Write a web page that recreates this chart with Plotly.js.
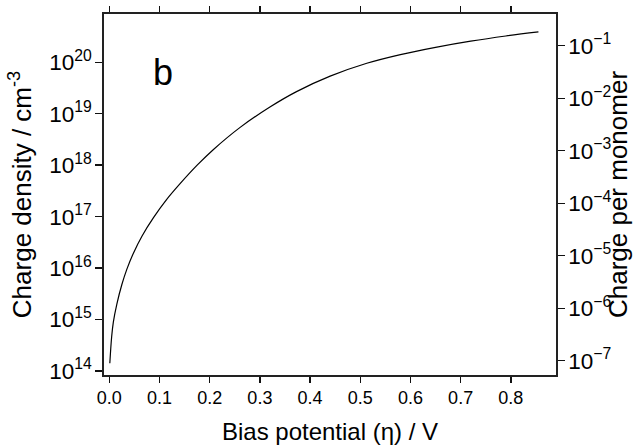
<!DOCTYPE html>
<html>
<head>
<meta charset="utf-8">
<script src="https://cdn.plot.ly/plotly-3.0.1.min.js"></script>
<style>html,body{margin:0;padding:0;background:#fff;}#chart{width:633px;height:446px;}</style>
</head>
<body>
<div id="chart"></div>
<script>
// Bias potential (V)
const eta = [0.001, 0.0047, 0.008, 0.015, 0.025, 0.035, 0.048, 0.065, 0.088, 0.114, 0.141, 0.175, 0.207, 0.26, 0.32, 0.373, 0.44, 0.513, 0.58, 0.65, 0.72, 0.79, 0.855];
// Charge density (cm^-3)
const density = [1.41e14, 4.68e14, 8.91e14, 2.0e15, 4.79e15, 9.55e15, 1.95e16, 4.17e16, 9.55e16, 2.14e17, 4.37e17, 1.0e18, 2.0e18, 5.37e18, 1.35e19, 2.69e19, 5.37e19, 9.55e19, 1.41e20, 1.95e20, 2.57e20, 3.24e20, 3.89e20];
const xTicks = [0, 0.1, 0.2, 0.3, 0.4, 0.5, 0.6, 0.7, 0.8];
const xTickText = ['0.0', '0.1', '0.2', '0.3', '0.4', '0.5', '0.6', '0.7', '0.8'];
// Decade exponents of the two y axes
const leftExp = [14, 15, 16, 17, 18, 19, 20];
const rightExp = [-7, -6, -5, -4, -3, -2, -1];

const FONT = 'Liberation Sans, Arial, sans-serif';
const W = 633, H = 446, M = {l: 104, r: 77, t: 14, b: 71};
const XRANGE = [-0.0106, 0.890];
const Y1RANGE = [13.922, 20.938];
const Y2RANGE = [-7.272, -0.396];

function minorVals(lo, hi) {
  const v = [];
  for (let e = lo; e <= hi; e++) for (let d = 2; d <= 9; d++) v.push(d * Math.pow(10, e));
  return v;
}
const decades = exps => exps.map(e => Math.pow(10, e));

// tick marks drawn as outward line markers just outside the y axis lines
const unitsPerPx = (XRANGE[1] - XRANGE[0]) / (W - M.l - M.r);
const MAJ = 7, MIN = 4;
function tickTrace(vals, len, side, yaxis) {
  const off = (len / 2) * unitsPerPx;
  const x0 = side === 'left' ? XRANGE[0] - off : XRANGE[1] + off;
  return {x: vals.map(() => x0), y: vals, yaxis: yaxis, type: 'scatter', mode: 'markers', cliponaxis: false,
    marker: {symbol: 'line-ew', size: len, line: {width: 1.3, color: '#000'}}, hoverinfo: 'skip', showlegend: false};
}

const traces = [
  {x: eta, y: density, type: 'scatter', mode: 'lines',
   line: {color: '#000', width: 1.2, shape: 'spline', smoothing: 1}, hoverinfo: 'skip', showlegend: false},
  tickTrace(minorVals(13, 20), MIN, 'left', 'y'),
  tickTrace(decades(leftExp), MAJ, 'left', 'y'),
  tickTrace(minorVals(-8, -1), MIN, 'right', 'y2'),
  tickTrace(decades(rightExp), MAJ, 'right', 'y2')
];

const axLine = {showline: true, linecolor: '#222', linewidth: 1.6, ticks: 'outside', tickcolor: '#111', tickwidth: 1.4, showgrid: false, zeroline: false};

const layout = {
  width: W, height: H,
  margin: M,
  paper_bgcolor: '#fff', plot_bgcolor: 'rgba(0,0,0,0)',
  font: {family: FONT, color: '#000', size: 18},
  showlegend: false,
  xaxis: Object.assign({}, axLine, {
    range: XRANGE, tickvals: xTicks, ticktext: xTickText,
    ticklen: 6, mirror: 'ticks',
    tickfont: {size: 18, family: FONT},
    title: {text: 'Bias potential (η) / V', font: {size: 24, family: FONT}, standoff: 16}
  }),
  yaxis: Object.assign({}, axLine, {
    type: 'log', range: Y1RANGE, dtick: 1, exponentformat: 'power',
    ticklen: MAJ, tickfont: {size: 18, family: FONT},
    title: {text: 'Charge density / cm<sup>-3</sup>', font: {size: 26, family: FONT}, standoff: 10}
  }),
  yaxis2: Object.assign({}, axLine, {
    type: 'log', range: Y2RANGE, dtick: 1, exponentformat: 'power',
    overlaying: 'y', side: 'right', anchor: 'x',
    ticklen: MAJ, tickfont: {size: 18, family: FONT},
    title: {text: 'Charge per monomer', font: {size: 26, family: FONT}, standoff: 7}
  }),
  annotations: [
    {text: 'b', x: 0.131, y: 0.838, xref: 'paper', yref: 'paper', showarrow: false,
     font: {size: 36, family: FONT, color: '#000'}, xanchor: 'center', yanchor: 'middle'}
  ]
};

Plotly.newPlot('chart', traces, layout, {displayModeBar: false, staticPlot: true});
</script>
</body>
</html>
